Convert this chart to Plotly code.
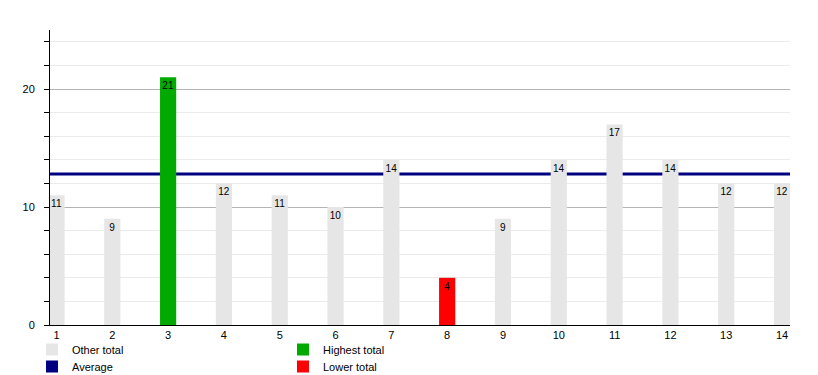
import plotly.graph_objects as go

categories = list(range(1, 15))
totals = [11, 9, 21, 12, 11, 10, 14, 4, 9, 14, 17, 14, 12, 12]
average = 12.8
tick_labels = [str(c) for c in categories]

GRAY = "#e6e6e6"
GREEN = "#00aa00"
RED = "#ff0000"
NAVY = "#000080"

hi = max(totals)
lo = min(totals)
other_vals = [v if (v != hi and v != lo) else None for v in totals]
hi_vals = [v if v == hi else None for v in totals]
lo_vals = [v if v == lo else None for v in totals]

FONT = "Liberation Sans, Arial, sans-serif"
bar_common = dict(
    x=categories, width=0.29, texttemplate="%{y}", textposition="inside",
    insidetextanchor="end", constraintext="none", textangle=0,
    insidetextfont=dict(color="black", size=10, family=FONT),
    marker_line_width=0, hoverinfo="skip",
)

fig = go.Figure()
fig.add_trace(go.Bar(y=other_vals, name="Other total", marker_color=GRAY, legend="legend", **bar_common))
fig.add_trace(go.Bar(y=hi_vals, name="Highest total", marker_color=GREEN, legend="legend", **bar_common))
fig.add_trace(go.Bar(x=[None], y=[None], name="Average", marker_color=NAVY, marker_line_width=0,
                     legend="legend2", showlegend=True))
fig.add_trace(go.Bar(y=lo_vals, name="Lower total", marker_color=RED, legend="legend2", **bar_common))

fig.add_shape(type="line", xref="paper", x0=0, x1=1, yref="y", y0=average, y1=average,
              line=dict(color=NAVY, width=3), layer="between")

leg = dict(orientation="h", xref="container", yref="container", xanchor="left", yanchor="top",
           font=dict(size=11, family=FONT, color="#000"), entrywidth=206, bgcolor="rgba(0,0,0,0)",
           itemclick=False, tracegroupgap=0)

fig.update_layout(
    width=818, height=375,
    margin=dict(l=50, r=28, t=30, b=50, autoexpand=False),
    paper_bgcolor="white", plot_bgcolor="white",
    barmode="overlay",
    font=dict(family=FONT, size=11, color="#000"),
    legend=dict(x=32 / 818, y=1 - 335 / 375, **leg),
    legend2=dict(x=32 / 818, y=1 - 352 / 375, **leg),
    xaxis=dict(range=[0.8835, 14.143], tickvals=categories, ticktext=tick_labels,
               showgrid=False, showline=True, linecolor="black", linewidth=1,
               ticks="", tickfont=dict(size=11), zeroline=False),
    yaxis=dict(range=[0, 25], dtick=10, tick0=0, showline=True, linecolor="black", linewidth=1,
               ticks="outside", ticklen=5, tickcolor="black", gridcolor="#b4b4b4",
               zeroline=False, tickfont=dict(size=11), ticklabelstandoff=7,
               minor=dict(dtick=2, tick0=0, ticks="outside", ticklen=5, tickcolor="black",
                          showgrid=True, gridcolor="#ebebeb")),
    showlegend=True,
)

fig.write_html("out.html", config={"displayModeBar": False},
               post_script="document.body.style.margin='0px';")
